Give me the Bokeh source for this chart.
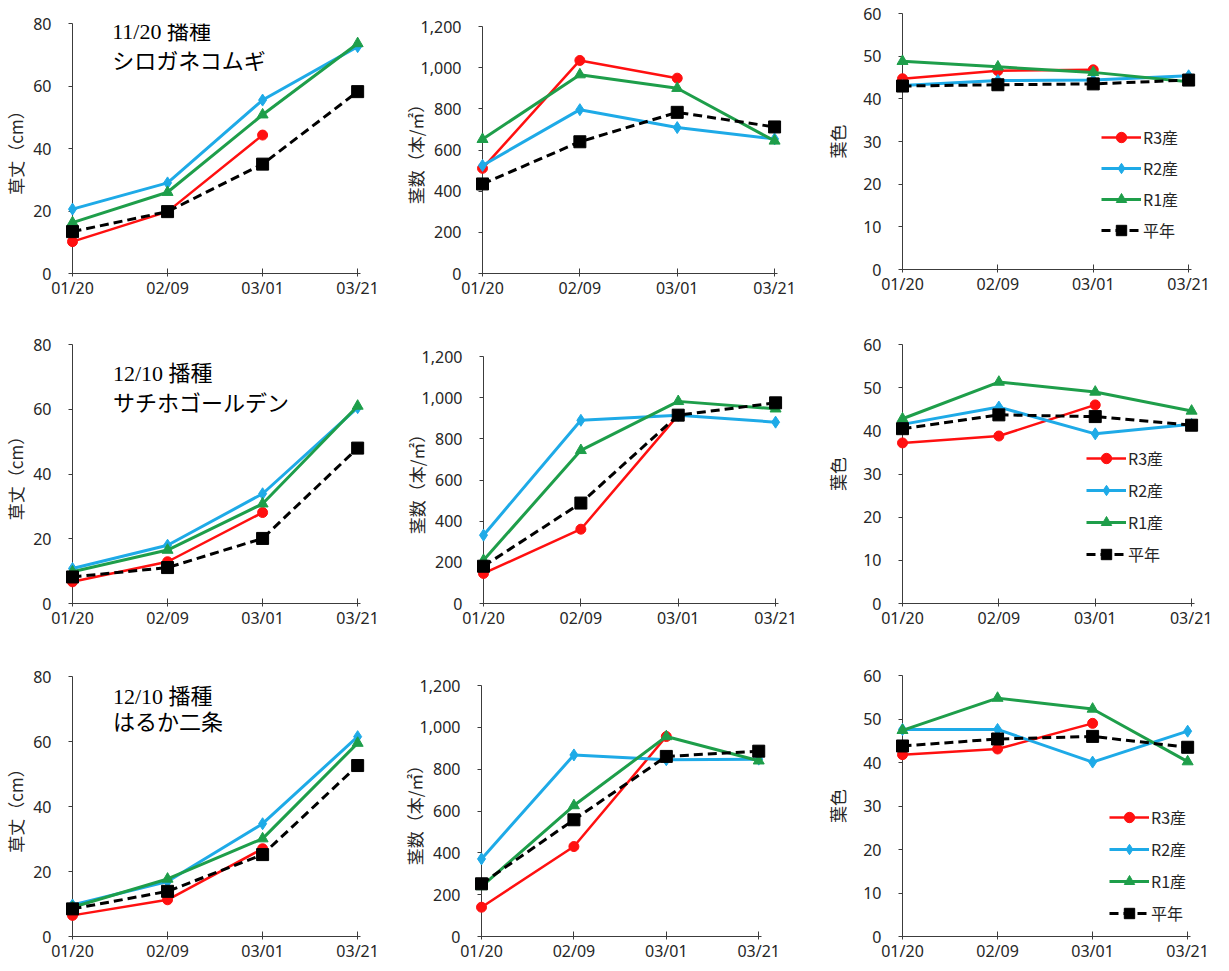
from bokeh.plotting import figure
from bokeh.layouts import row, column
from bokeh.models import Range1d, FixedTicker, NumeralTickFormatter, Legend, LegendItem, Label
from bokeh.embed import file_html
from bokeh.resources import INLINE

# ---------------- data ----------------
dates = ["01/20", "02/09", "03/01", "03/21"]
series_names = ["R3産", "R2産", "R1産", "平年"]
sowing = ["11/20 播種", "12/10 播種", "12/10 播種"]
varieties = ["シロガネコムギ", "サチホゴールデン", "はるか二条"]
y_titles = ["草丈（cm）", "茎数（本/㎡）", "葉色"]

# Row 1 : シロガネコムギ
h1_r3 = [10.2, 19.8, 44.3]
h1_r2 = [20.6, 29.0, 55.5, 72.6]
h1_r1 = [16.3, 26.0, 50.8, 73.6]
h1_avg = [13.4, 19.8, 35.0, 58.2]
s1_r3 = [511, 1035, 949]
s1_r2 = [525, 796, 709, 654]
s1_r1 = [652, 966, 900, 644]
s1_avg = [435, 640, 783, 712]
c1_r3 = [44.7, 46.6, 46.8]
c1_r2 = [43.1, 44.3, 44.4, 45.4]
c1_r1 = [48.8, 47.5, 46.2, 44.0]
c1_avg = [43.0, 43.3, 43.5, 44.4]

# Row 2 : サチホゴールデン
h2_r3 = [6.7, 12.9, 28.1]
h2_r2 = [10.8, 18.0, 33.9, 60.5]
h2_r1 = [9.8, 16.5, 30.8, 61.0]
h2_avg = [8.2, 11.1, 20.1, 48.0]
s2_r3 = [146, 361, 915]
s2_r2 = [332, 890, 914, 881]
s2_r1 = [210, 744, 982, 946]
s2_avg = [181, 488, 915, 975]
c2_r3 = [37.2, 38.8, 46.0]
c2_r2 = [41.5, 45.5, 39.3, 41.5]
c2_r1 = [42.8, 51.3, 49.0, 44.6]
c2_avg = [40.5, 43.7, 43.3, 41.3]

# Row 3 : はるか二条
h3_r3 = [6.5, 11.3, 27.0]
h3_r2 = [9.7, 16.9, 34.7, 61.5]
h3_r1 = [9.0, 17.7, 30.1, 59.5]
h3_avg = [8.5, 13.9, 25.2, 52.6]
s3_r3 = [140, 430, 956]
s3_r2 = [371, 868, 845, 848]
s3_r1 = [239, 626, 956, 840]
s3_avg = [252, 558, 861, 886]
c3_r3 = [41.8, 43.1, 49.0]
c3_r2 = [47.6, 47.6, 40.1, 47.2]
c3_r1 = [47.4, 54.8, 52.3, 40.2]
c3_avg = [43.8, 45.4, 46.0, 43.5]

grid_data = [
    [[h1_r3, h1_r2, h1_r1, h1_avg], [s1_r3, s1_r2, s1_r1, s1_avg], [c1_r3, c1_r2, c1_r1, c1_avg]],
    [[h2_r3, h2_r2, h2_r1, h2_avg], [s2_r3, s2_r2, s2_r1, s2_avg], [c2_r3, c2_r2, c2_r1, c2_avg]],
    [[h3_r3, h3_r2, h3_r1, h3_avg], [s3_r3, s3_r2, s3_r1, s3_avg], [c3_r3, c3_r2, c3_r1, c3_avg]],
]

# ---------------- styles / layout ----------------
COLORS = ["#FF1010", "#1EAAE7", "#1E9E4A", "#000000"]
MARKERS = ["circle", "diamond", "triangle", "square"]
MSIZES = [10, 12, 11, 12]
LWIDTH = [2.5, 3, 3, 3]
DASH = ["solid", "solid", "solid", "9 5"]

Y_MAX = [80, 1200, 60]
Y_STEP = [20, 200, 10]
LABEL_STANDOFF = [2, -10, 10]

COL_W = [398, 424, 390]
ROW_H = [324, 318, 324]
BORDERS = {  # left, right, top, bottom
    (0, 0): (67, 38, 23, 51), (0, 1): (84, 45, 26, 51), (0, 2): (75, 21, 13, 55),
    (1, 0): (66, 38, 20, 39), (1, 1): (85, 44, 32, 39), (1, 2): (78, 18, 20, 39),
    (2, 0): (66, 38, 34, 30), (2, 1): (83, 61, 43, 30), (2, 2): (74, 22, 33, 30),
}
LEGEND_POS = [(199, 26), (184, 36), (207, 10)]
LEGEND_SPACING = [5, 6, 6]
TITLE_POS = [(0.417, 77.3, 68.7), (0.426, 71.0, 62.7), (0.426, 73.8, 66.5)]

AXIS_COLOR = "#3c3c3c"
TICK_FONT = "Noto Sans"
CJK_FONT = "Noto Sans CJK JP"


def make_panel(r, c):
    bl, br, bt, bb = BORDERS[(r, c)]
    p = figure(width=COL_W[c], height=ROW_H[r],
               x_range=Range1d(0, 3.03), y_range=Range1d(0, Y_MAX[c]),
               output_backend="svg", toolbar_location=None,
               min_border_left=bl, min_border_right=br,
               min_border_top=bt, min_border_bottom=bb)
    p.outline_line_color = None
    p.xgrid.visible = False
    p.ygrid.visible = False
    p.background_fill_color = "white"
    p.border_fill_color = "white"

    # x axis
    xa = p.xaxis[0]
    xa.ticker = FixedTicker(ticks=list(range(len(dates))))
    xa.major_label_overrides = {i: d for i, d in enumerate(dates)}
    xa.minor_tick_line_color = None
    xa.major_tick_in = 5
    xa.major_tick_out = 3
    xa.major_label_standoff = 0
    xa.axis_line_color = AXIS_COLOR
    xa.major_tick_line_color = AXIS_COLOR
    xa.major_label_text_font = TICK_FONT
    xa.major_label_text_font_size = "16px"
    xa.major_label_text_color = "#262626"

    # y axis
    ya = p.yaxis[0]
    ya.ticker = FixedTicker(ticks=list(range(0, Y_MAX[c] + 1, Y_STEP[c])))
    if c == 1:
        ya.formatter = NumeralTickFormatter(format="0,0")
    ya.minor_tick_line_color = None
    ya.major_tick_in = 0
    ya.major_tick_out = 4
    ya.major_label_standoff = 17
    ya.axis_line_color = AXIS_COLOR
    ya.major_tick_line_color = AXIS_COLOR
    ya.major_label_text_font = TICK_FONT
    ya.major_label_text_font_size = "16px"
    ya.major_label_text_color = "#262626"
    ya.axis_label = y_titles[c]
    ya.axis_label_text_font = CJK_FONT
    ya.axis_label_text_font_style = "normal"
    ya.axis_label_text_font_size = "17px"
    ya.axis_label_text_color = "#262626"
    ya.axis_label_standoff = LABEL_STANDOFF[c]

    items = []
    for k, vals in enumerate(grid_data[r][c]):
        xs = list(range(len(vals)))
        ln = p.line(xs, vals, line_color=COLORS[k], line_width=LWIDTH[k],
                    line_dash=DASH[k], level="overlay")
        mk = p.scatter(xs, vals, marker=MARKERS[k], size=MSIZES[k],
                       fill_color=COLORS[k], line_color=COLORS[k], level="overlay")
        items.append(LegendItem(label=series_names[k], renderers=[ln, mk]))

    if c == 2:
        lg = Legend(items=items, location=LEGEND_POS[r], orientation="vertical",
                    padding=0, margin=0, spacing=LEGEND_SPACING[r],
                    glyph_width=40, glyph_height=26, label_height=26,
                    label_standoff=2, border_line_color=None,
                    background_fill_alpha=0,
                    label_text_font=CJK_FONT, label_text_font_size="16px",
                    label_text_color="#262626")
        p.add_layout(lg)

    if c == 0:
        tx, ty1, ty2 = TITLE_POS[r]
        p.add_layout(Label(x=tx, y=ty1, text=sowing[r],
                           text_font="Liberation Serif, Noto Sans CJK JP",
                           text_font_size="22px", text_baseline="middle",
                           text_align="left", text_color="black"))
        p.add_layout(Label(x=tx, y=ty2, text=varieties[r],
                           text_font=CJK_FONT,
                           text_font_size="22px", text_baseline="middle",
                           text_align="left", text_color="black"))
    return p


# each panel wrapped on its own so that neighbouring frames are not aligned
rows = [row([column([make_panel(r, c)], spacing=0) for c in range(3)], spacing=0)
        for r in range(3)]
layout = column(rows, spacing=0)

open("out.html", "w").write(file_html(layout, INLINE, title="chart"))
